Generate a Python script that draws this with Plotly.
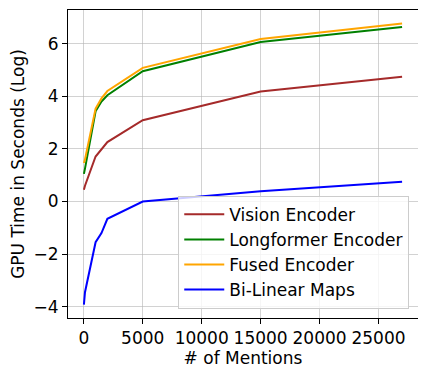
import plotly.graph_objects as go

mentions = [10, 100, 1000, 1500, 2000, 5000, 15000, 27000]
vision = [0.45, 0.6, 1.71, 2.0, 2.26, 3.09, 4.18, 4.74]
longformer = [1.05, 1.25, 3.43, 3.8, 4.04, 4.95, 6.06, 6.63]
fused = [1.46, 1.6, 3.53, 3.92, 4.2, 5.08, 6.18, 6.77]
bilinear = [-3.92, -3.45, -1.55, -1.2, -0.66, 0.0, 0.39, 0.75]
x_ticks = [0, 5000, 10000, 15000, 20000, 25000]
y_ticks = [-4, -2, 0, 2, 4, 6]

series = [
    ("Vision Encoder", vision, "#a52a2a"),
    ("Longformer Encoder", longformer, "green"),
    ("Fused Encoder", fused, "orange"),
    ("Bi-Linear Maps", bilinear, "blue"),
]

fig = go.Figure()
for name, vals, color in series:
    fig.add_trace(go.Scatter(x=mentions, y=vals, mode="lines", name=name,
                             line=dict(color=color, width=2)))

axis_style = dict(
    showline=True, linecolor="black", linewidth=1, mirror=True,
    ticks="outside", ticklen=5, tickcolor="black",
    showgrid=True, gridcolor="rgba(180,180,180,0.6)", gridwidth=1,
    zeroline=False, tickfont=dict(size=17, color="black"), automargin=False,
)

# page body adds ~8px offset, so the figure is a bit smaller than the window
fig.update_layout(
    width=418, height=371,
    margin=dict(l=60, r=8, t=2, b=61),
    plot_bgcolor="white", paper_bgcolor="white",
    font=dict(family="DejaVu Sans", size=17, color="black"),
    xaxis=dict(axis_style, range=[-1340, 28350], tickvals=x_ticks,
               ticktext=[str(v) for v in x_ticks],
               title=dict(text="# of Mentions", font=dict(size=17), standoff=4)),
    yaxis=dict(axis_style, range=[-4.43, 7.28], tickvals=y_ticks,
               ticktext=["\u2212" + str(-v) if v < 0 else str(v) for v in y_ticks],
               title=dict(text="GPU Time in Seconds (Log)", font=dict(size=17), standoff=4)),
    legend=dict(x=0.975, y=0.03, xanchor="right", yanchor="bottom",
                bgcolor="rgba(255,255,255,0.8)", bordercolor="#cccccc", borderwidth=1,
                font=dict(size=17), tracegroupgap=0, itemwidth=40),
)

fig.write_html("out.html")
